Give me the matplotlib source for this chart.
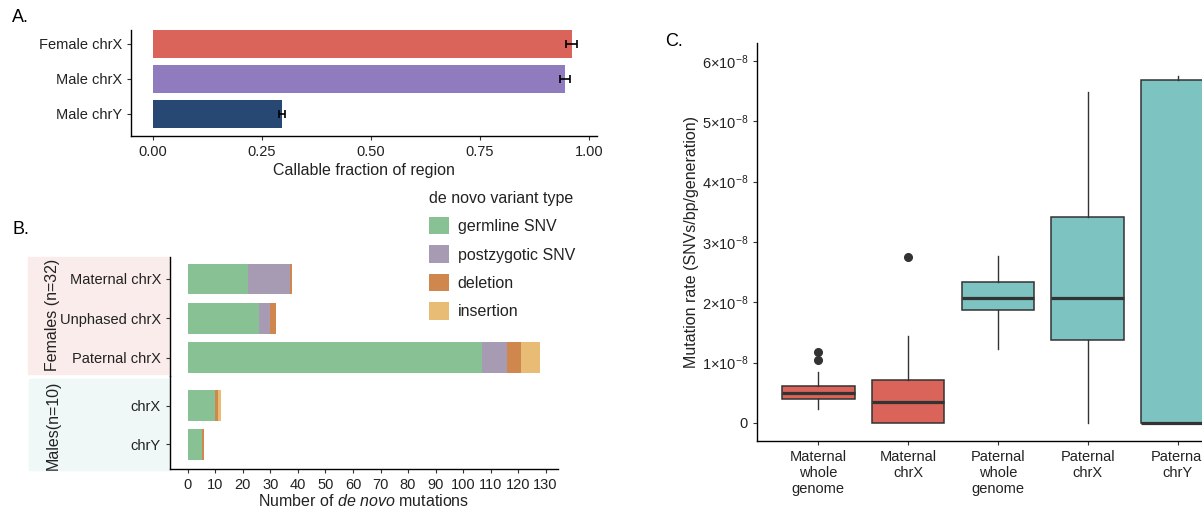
import numpy as np
import matplotlib
matplotlib.use("Agg")
import matplotlib.pyplot as plt
from matplotlib.patches import Patch, Rectangle
from matplotlib.ticker import FuncFormatter

plt.rcParams['font.family'] = ['Liberation Sans', 'DejaVu Sans']
plt.rcParams['mathtext.fontset'] = 'custom'
plt.rcParams['mathtext.rm'] = 'Liberation Sans'
plt.rcParams['mathtext.it'] = 'Liberation Sans:italic'

TXT = '#222222'
AX = '#333333'

# ---- panel A data
regions = ["Male chrY", "Male chrX", "Female chrX"]
callable_frac = [0.296, 0.945, 0.960]
callable_err = [0.007, 0.012, 0.012]
region_colors = ["#264872", "#917BBF", "#DA635A"]

# ---- panel B data
female_cats = ["Maternal chrX", "Unphased chrX", "Paternal chrX"]
male_cats = ["chrX", "chrY"]
types = ["germline SNV", "postzygotic SNV", "deletion", "insertion"]
type_colors = ["#88C194", "#A79BB4", "#D0874E", "#E8BC74"]
female_counts = {
    "germline SNV": [22, 26, 107],
    "postzygotic SNV": [15, 4, 9],
    "deletion": [1, 2, 5],
    "insertion": [0, 0, 7],
}
male_counts = {
    "germline SNV": [10, 5],
    "postzygotic SNV": [0, 0],
    "deletion": [1, 1],
    "insertion": [1, 0],
}

# ---- panel C data (SNVs/bp/generation)
groups = ["Maternal\nwhole\ngenome", "Maternal\nchrX", "Paternal\nwhole\ngenome",
          "Paternal\nchrX", "Paternal\nchrY"]
group_colors = ["#DA635A", "#DA635A", "#7CC3C2", "#7CC3C2", "#7CC3C2"]
med = np.array([0.50, 0.34, 2.07, 2.07, 0.0]) * 1e-8
q1 = np.array([0.40, 0.0, 1.87, 1.38, 0.0]) * 1e-8
q3 = np.array([0.62, 0.71, 2.33, 3.42, 5.69]) * 1e-8
whislo = np.array([0.23, 0.0, 1.23, 0.0, 0.0]) * 1e-8
whishi = np.array([0.85, 1.44, 2.77, 5.49, 5.75]) * 1e-8
outliers = [np.array([1.04, 1.18]) * 1e-8, np.array([2.75]) * 1e-8,
            np.array([]), np.array([]), np.array([])]

W, H = 1202, 508
fig = plt.figure(figsize=(W / 100, H / 100), dpi=100)


def box(x0, y0, x1, y1):
    return [x0 / W, 1 - y1 / H, (x1 - x0) / W, (y1 - y0) / H]


def style(ax, left=True, bottom=True):
    for s in ['top', 'right']:
        ax.spines[s].set_visible(False)
    ax.spines['left'].set_visible(left)
    ax.spines['bottom'].set_visible(bottom)
    for s in ['left', 'bottom']:
        ax.spines[s].set_color('black')
        ax.spines[s].set_linewidth(1.0)
    ax.tick_params(colors=AX, labelcolor=TXT, labelsize=10.5, length=3, width=0.8)


# ---------------- A
axA = fig.add_axes(box(131, 30, 597, 136))
style(axA)
ypos = np.arange(len(regions))
axA.barh(ypos, callable_frac, height=0.8, color=region_colors)
axA.errorbar(callable_frac, ypos, xerr=callable_err, fmt='none', ecolor='black',
             elinewidth=1.2, capsize=3, capthick=1.2)
axA.set_yticks(ypos)
axA.set_yticklabels(regions)
axA.set_xlim(-0.05, 1.018)
axA.set_ylim(-0.64, 2.39)
axA.set_xticks([0, 0.25, 0.5, 0.75, 1.0])
axA.set_xticklabels(["0.00", "0.25", "0.50", "0.75", "1.00"])
axA.set_xlabel("Callable fraction of region", fontsize=11.5, color=TXT, labelpad=3)
fig.text(12 / W, 1 - 18 / H, "A.", fontsize=13, va='center', ha='left', color='black')

# ---------------- B
fig.patches.append(Rectangle((28 / W, 1 - 374 / H), 142 / W, 117 / H,
                             transform=fig.transFigure, color='#F9ECEB', zorder=-5))
fig.patches.append(Rectangle((29 / W, 1 - 470 / H), 141 / W, 91 / H,
                             transform=fig.transFigure, color='#EFF8F7', zorder=-5))

axF = fig.add_axes(box(170, 257, 558, 376))
axM = fig.add_axes(box(170, 376, 558, 469), sharex=axF)
for ax, cats, counts, lim in [(axF, female_cats, female_counts, (2.47, -0.56)),
                              (axM, male_cats, male_counts, (1.63, -0.76))]:
    ax.patch.set_alpha(0)
    pos = np.arange(len(cats))
    left = np.zeros(len(cats))
    for t, c in zip(types, type_colors):
        vals = np.array(counts[t], dtype=float)
        ax.barh(pos, vals, left=left, height=0.78, color=c, label=t)
        left += vals
    ax.set_yticks(pos)
    ax.set_yticklabels(cats)
    ax.set_ylim(*lim)
style(axF, bottom=False)
style(axM)
axF.tick_params(axis='x', bottom=False, labelbottom=False)
axM.set_xlim(-6.5, 134.5)
axM.set_xticks(np.arange(0, 131, 10))
axM.set_xlabel("Number of $\\it{de\\ novo}$ mutations", fontsize=11.5, color=TXT, labelpad=1)
fig.text(53 / W, 1 - 315 / H, "Females (n=32)", rotation=90, fontsize=11.5,
         ha='center', va='center', color=TXT)
fig.text(53 / W, 1 - 425 / H, "Males(n=10)", rotation=90, fontsize=11.5,
         ha='center', va='center', color=TXT)
fig.text(12 / W, 1 - 230 / H, "B.", fontsize=13, va='center', ha='left', color='black')

handles = [Patch(facecolor=c, edgecolor='none', label=t) for t, c in zip(types, type_colors)]
leg = fig.legend(handles=handles, title="de novo variant type", loc='upper left',
                 bbox_to_anchor=(429 / W, 1 - 191 / H), frameon=False, fontsize=11.5,
                 title_fontsize=11.5, handlelength=1.25, handleheight=1.3,
                 handletextpad=0.55, labelspacing=0.69, borderpad=0, borderaxespad=0,
                 alignment='left')
for t in leg.get_texts():
    t.set_color(TXT)
leg.get_title().set_color(TXT)

# ---------------- C
axC = fig.add_axes(box(757, 43, 1202, 441))
style(axC)
stats = []
for i in range(len(groups)):
    stats.append(dict(med=med[i], q1=q1[i], q3=q3[i], whislo=whislo[i],
                      whishi=whishi[i], fliers=outliers[i]))
positions = np.arange(1, len(groups) + 1)
bp = axC.bxp(stats, positions=positions, widths=0.81, patch_artist=True, showcaps=False,
             boxprops=dict(edgecolor=AX, linewidth=1.1),
             medianprops=dict(color=AX, linewidth=2.3),
             whiskerprops=dict(color=AX, linewidth=1.0),
             flierprops=dict(marker='o', markerfacecolor=AX, markeredgecolor=AX,
                             markersize=5.5))
for patch, c in zip(bp['boxes'], group_colors):
    patch.set_facecolor(c)
axC.set_xticks(positions)
axC.set_xticklabels(groups, linespacing=1.2)
axC.set_xlim(0.32, 5.27)
axC.set_ylim(-0.30e-8, 6.30e-8)
axC.set_yticks(np.arange(0, 7) * 1e-8)


def sci(v, p):
    n = int(round(v / 1e-8))
    return "0" if n == 0 else r"$%d{\times}10^{-8}$" % n


axC.yaxis.set_major_formatter(FuncFormatter(sci))
axC.set_ylabel("Mutation rate (SNVs/bp/generation)", fontsize=11.5, color=TXT, labelpad=2)
fig.text(665 / W, 1 - 42 / H, "C.", fontsize=13, va='center', ha='left', color='black')

fig.savefig("out.png", dpi=100)
